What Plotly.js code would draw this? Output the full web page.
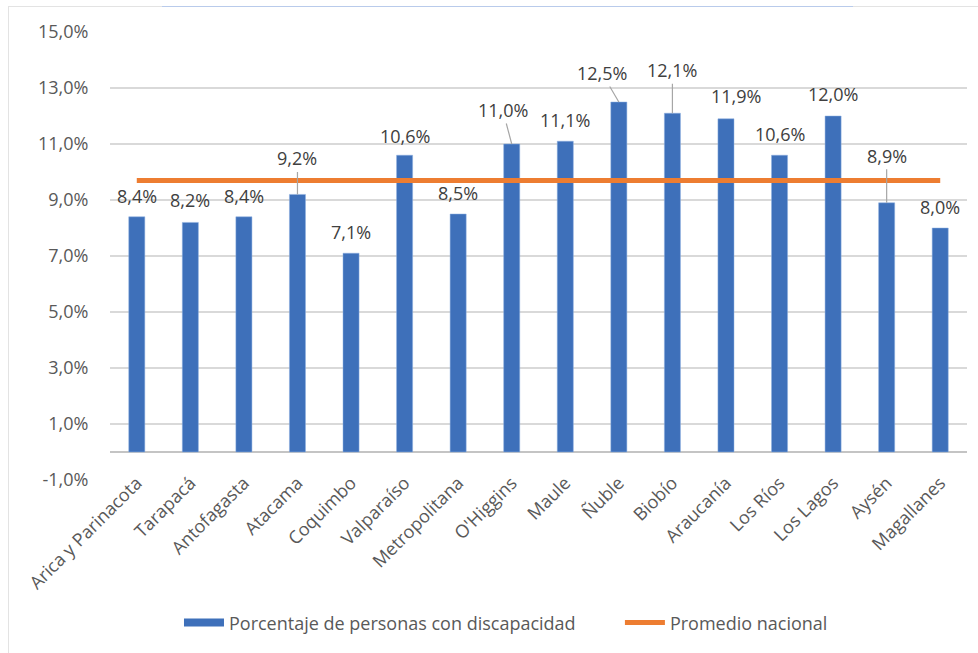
<!DOCTYPE html>
<html>
<head>
<meta charset="utf-8">
<script src="https://cdn.plot.ly/plotly-3.0.1.min.js"></script>
<style>
  html, body { margin: 0; padding: 0; background: #fff; }
  #chart { position: absolute; left: 0; top: 0; width: 978px; height: 653px; }
  .frame-top { position: absolute; left: 8px; top: 6px; width: 970px; height: 1px; background: #e3e3e3; }
  .frame-left { position: absolute; left: 8px; top: 6px; width: 1px; height: 647px; background: #e3e3e3; }
  .frame-blue { position: absolute; left: 162px; top: 6px; width: 691px; height: 1px; background: #b9cbeb; }
</style>
</head>
<body>
<div id="chart"></div>
<div class="frame-top"></div>
<div class="frame-left"></div>
<div class="frame-blue"></div>
<script>
// ---- data ----
const regions = ["Arica y Parinacota", "Tarapacá", "Antofagasta", "Atacama", "Coquimbo",
  "Valparaíso", "Metropolitana", "O'Higgins", "Maule", "Ñuble", "Biobío", "Araucanía",
  "Los Ríos", "Los Lagos", "Aysén", "Magallanes"];
const discapacidad = [8.4, 8.2, 8.4, 9.2, 7.1, 10.6, 8.5, 11.0, 11.1, 12.5, 12.1, 11.9, 10.6, 12.0, 8.9, 8.0];
const promedioNacional = [9.7, 9.7, 9.7, 9.7, 9.7, 9.7, 9.7, 9.7, 9.7, 9.7, 9.7, 9.7, 9.7, 9.7, 9.7, 9.7];
const seriesNames = ["Porcentaje de personas con discapacidad", "Promedio nacional"];
const yTickVals = [-1, 1, 3, 5, 7, 9, 11, 13, 15];
const yTickText = ["-1,0%", "1,0%", "3,0%", "5,0%", "7,0%", "9,0%", "11,0%", "13,0%", "15,0%"];

// ---- label placement (pixels, layout only) ----
const labelDx = [0, 0, 0, 0, 0, 0, 0, -9, 0, -17, 0, 10, 0, 0, 0, 0];
const labelDy = [-21, -22, -21, -36, -21, -19, -21, -34, -21, -29, -43, -23, -21, -22, -47, -21];
const hasLeader = [false, false, false, true, false, false, false, true, false, true, true, false, false, false, true, false];

const FONT = "Open Sans, Noto Sans, sans-serif";
const fmt = v => v.toFixed(1).replace('.', ',') + '%';

const annotations = regions.map((r, i) => {
  const base = {
    x: r, y: discapacidad[i], xref: 'x', yref: 'y',
    text: fmt(discapacidad[i]),
    font: { family: FONT, size: 18, color: '#404040' },
  };
  if (hasLeader[i]) {
    return Object.assign(base, {
      showarrow: true, arrowhead: 0, arrowwidth: 1.2, arrowcolor: '#a6a6a6',
      ax: labelDx[i], ay: labelDy[i], standoff: 0, startstandoff: 0
    });
  }
  return Object.assign(base, {
    showarrow: false, xshift: labelDx[i], yshift: -labelDy[i],
    xanchor: 'center', yanchor: 'middle'
  });
});

const BLUE = '#3e70ba';
const ORANGE = '#ed7d31';

const traces = [
  {
    type: 'bar', name: seriesNames[0], x: regions, y: discapacidad,
    marker: { color: BLUE, line: { color: '#8fb0e0', width: 0.5 } },
    showlegend: false
  },
  // legend-only entry so the swatch is a wide bar like the original
  {
    type: 'scatter', mode: 'lines', name: seriesNames[0], x: [null], y: [null],
    line: { color: BLUE, width: 8 }, legend: 'legend'
  },
  {
    type: 'scatter', mode: 'lines', name: seriesNames[1], x: regions, y: promedioNacional,
    line: { color: ORANGE, width: 5 }, legend: 'legend2'
  }
];

const legendFont = { family: FONT, size: 18, color: '#595959' };

const layout = {
  width: 978, height: 653,
  margin: { l: 110, r: 11, t: 32, b: 173 },
  paper_bgcolor: 'rgba(0,0,0,0)', plot_bgcolor: 'rgba(0,0,0,0)',
  font: { family: FONT, size: 18, color: '#595959' },
  bargap: 0.70,
  showlegend: true,
  legend: {
    orientation: 'h', x: 0.0805, xanchor: 'left', y: -0.319, yanchor: 'middle',
    font: legendFont, itemwidth: 40, bgcolor: 'rgba(0,0,0,0)'
  },
  legend2: {
    orientation: 'h', x: 0.595, xanchor: 'left', y: -0.319, yanchor: 'middle',
    font: legendFont, itemwidth: 40, bgcolor: 'rgba(0,0,0,0)'
  },
  xaxis: {
    type: 'category', tickangle: -45, showgrid: false, showline: false, zeroline: false,
    ticks: '', tickfont: { family: FONT, size: 18, color: '#595959' }, automargin: false,
    ticklabelstandoff: -12
  },
  yaxis: {
    range: [-1, 15], tickvals: yTickVals, ticktext: yTickText,
    showgrid: true, gridcolor: '#d9d9d9', gridwidth: 1.2,
    zeroline: true, zerolinecolor: '#c4c4c4', zerolinewidth: 1.5,
    showline: false, ticks: 'outside', ticklen: 17, tickcolor: 'rgba(0,0,0,0)',
    tickfont: { family: FONT, size: 18, color: '#595959' }, automargin: false
  },
  annotations: annotations
};

Plotly.newPlot('chart', traces, layout, { displayModeBar: false, staticPlot: true });
</script>
</body>
</html>
